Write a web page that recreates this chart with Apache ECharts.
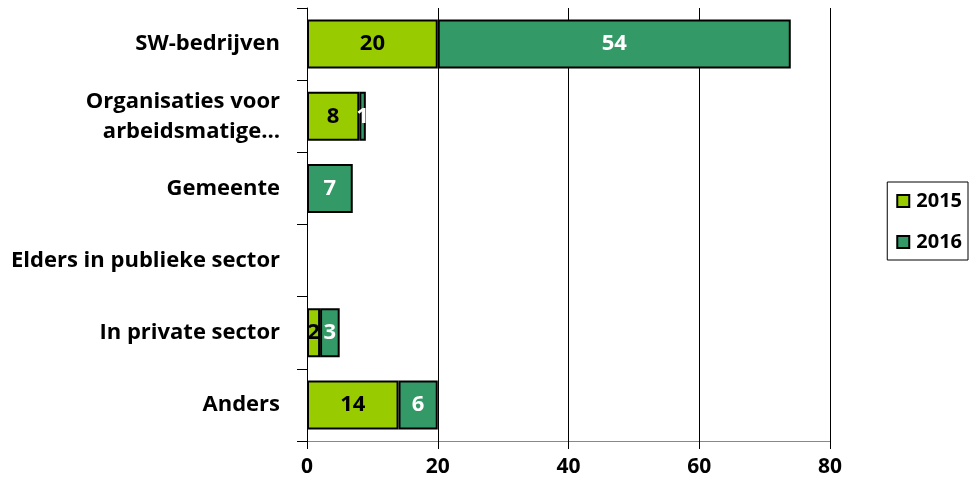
<!DOCTYPE html>
<html>
<head>
<meta charset="utf-8">
<script src="https://cdn.jsdelivr.net/npm/echarts@6/dist/echarts.min.js"></script>
<style>html,body{margin:0;padding:0;background:#fff}#c{width:976px;height:488px}</style>
</head>
<body>
<div id="c"></div>
<script>
const categories = ["SW-bedrijven", "Organisaties voor\narbeidsmatige…", "Gemeente", "Elders in publieke sector", "In private sector", "Anders"];
const seriesNames = ["2015", "2016"];
const values2015 = [20, 8, null, null, 2, 14];
const values2016 = [54, 1, 7, null, 3, 6];
const xTicks = [0, 20, 40, 60, 80];

const FONT = "Open Sans";
const chart = echarts.init(document.getElementById('c'));
chart.setOption({
  animation: false,
  textStyle: { fontFamily: FONT },
  grid: { left: 307, right: 146, top: 8, bottom: 47 },
  legend: {
    data: seriesNames,
    orient: 'vertical',
    right: 8,
    top: 182,
    padding: [9, 6, 8, 9],
    borderColor: '#000',
    borderWidth: 1,
    itemWidth: 12,
    itemHeight: 12,
    itemGap: 21,
    icon: 'rect',
    textStyle: { fontFamily: FONT, fontWeight: 'bold', fontSize: 20, color: '#000', padding: [0, 0, 0, 2] },
    itemStyle: { borderColor: '#000', borderWidth: 2 }
  },
  xAxis: {
    type: 'value',
    min: xTicks[0],
    max: xTicks[xTicks.length - 1],
    interval: 20,
    axisLine: { show: true, lineStyle: { color: '#888', width: 1 } },
    axisTick: { show: true, length: 8, lineStyle: { color: '#000' } },
    splitLine: { show: true, lineStyle: { color: '#000', width: 1 } },
    axisLabel: { color: '#000', fontFamily: FONT, fontWeight: 'bold', fontSize: 21, margin: 16 }
  },
  yAxis: {
    type: 'category',
    inverse: true,
    data: categories,
    axisLine: { show: true, lineStyle: { color: '#000', width: 1 } },
    axisTick: { show: true, length: 10, alignWithLabel: false, lineStyle: { color: '#000' } },
    axisLabel: { color: '#000', fontFamily: FONT, fontWeight: 'bold', fontSize: 22, margin: 27, lineHeight: 30, align: 'right' }
  },
  series: [
    {
      name: seriesNames[0], type: 'bar', stack: 'a', data: values2015, barWidth: '68%',
      itemStyle: { color: '#99CC00', borderColor: '#000', borderWidth: 2 },
      label: { show: true, position: 'inside', color: '#000', fontFamily: FONT, fontWeight: 'bold', fontSize: 22 }
    },
    {
      name: seriesNames[1], type: 'bar', stack: 'a', data: values2016, barWidth: '68%',
      itemStyle: { color: '#339966', borderColor: '#000', borderWidth: 2 },
      label: { show: true, position: 'inside', color: '#fff', fontFamily: FONT, fontWeight: 'bold', fontSize: 22 }
    }
  ]
});
</script>
</body>
</html>
